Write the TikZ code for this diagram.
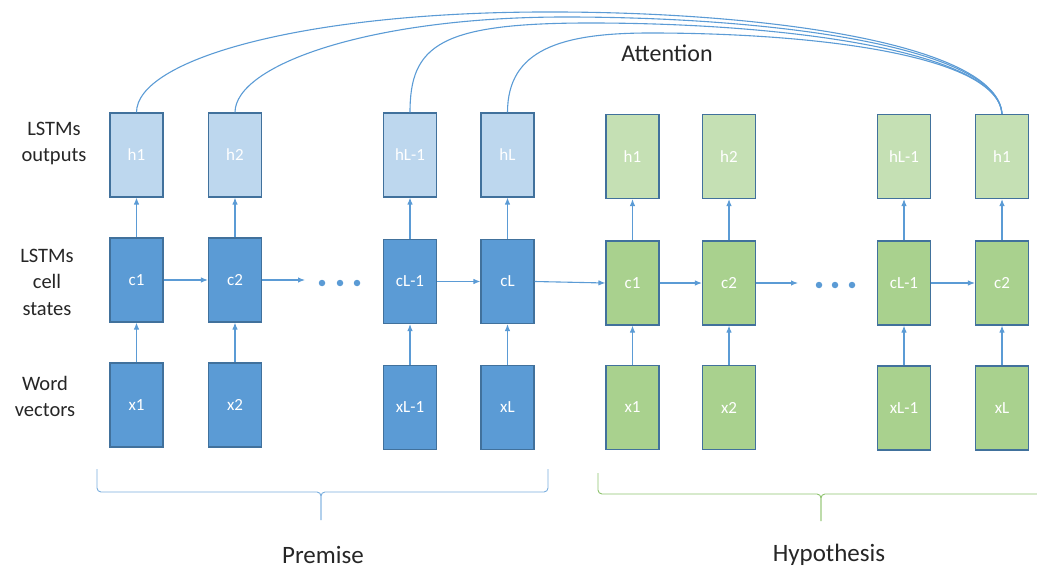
\documentclass[tikz,border=0pt]{standalone}
\usepackage{fontspec}
\setmainfont{Carlito}
\usetikzlibrary{arrows.meta}
\definecolor{bdark}{HTML}{5B9BD5}
\definecolor{blight}{HTML}{BDD7EE}
\definecolor{gdark}{HTML}{A9D18E}
\definecolor{glight}{HTML}{C5E0B4}
\definecolor{edge}{HTML}{41719C}
\definecolor{arr}{HTML}{5B9BD5}
\definecolor{gbrace}{HTML}{8FC36F}
\definecolor{bbrace}{HTML}{7AAEDE}
\definecolor{txt}{HTML}{262626}
\begin{document}
\begin{tikzpicture}[x=1pt,y=-1pt,
  cell/.style={draw=edge,line width=1.1pt,minimum width=53pt,minimum height=84pt,inner sep=0pt,
     text=white,font=\fontsize{17}{20}\selectfont},
  bh/.style={cell,fill=blight},
  bc/.style={cell,fill=bdark},
  gh/.style={cell,fill=glight},
  gc/.style={cell,fill=gdark},
  conn/.style={draw=arr,line width=1.1pt,-{Latex[length=7pt,width=5.5pt]}},
  att/.style={draw=arr,line width=1.1pt},
  lab/.style={align=center,text=txt,font=\fontsize{20.5}{26.5}\selectfont},
  big/.style={text=txt,font=\fontsize{24}{28}\selectfont},
  dot/.style={circle,fill=arr,inner sep=0pt,minimum size=6.5pt}
]
\useasboundingbox (0,0) rectangle (1037,575);
% premise boxes
\node[bh] (ph1) at (136.5,155) {h1};
\node[bh] (ph2) at (235,155) {h2};
\node[bh] (ph3) at (410,155) {hL-1};
\node[bh] (ph4) at (507.5,155) {hL};
\node[bc] (pc1) at (136.5,280) {c1};
\node[bc] (pc2) at (235,280) {c2};
\node[bc] (pc3) at (410,281.5) {cL-1};
\node[bc] (pc4) at (507.5,281.5) {cL};
\node[bc] (px1) at (136.5,405) {x1};
\node[bc] (px2) at (235,405) {x2};
\node[bc] (px3) at (410,407.5) {xL-1};
\node[bc] (px4) at (507.5,407.5) {xL};
% hypothesis boxes
\node[gh] (gh1) at (632.5,156.5) {h1};
\node[gh] (gh2) at (729,156.5) {h2};
\node[gh] (gh3) at (904,156.5) {hL-1};
\node[gh] (gh4) at (1002,156.5) {h1};
\node[gc] (gc1) at (632.5,283) {c1};
\node[gc] (gc2) at (729,283) {c2};
\node[gc] (gc3) at (904,283) {cL-1};
\node[gc] (gc4) at (1002,283) {c2};
\node[gc] (gx1) at (632.5,407.5) {x1};
\node[gc] (gx2) at (729,407.5) {x2};
\node[gc] (gx3) at (904,408) {xL-1};
\node[gc] (gx4) at (1002,408) {xL};
% vertical arrows
\foreach \i in {1,2,3,4}{
  \draw[conn] (px\i) -- (pc\i);
  \draw[conn] (pc\i) -- (ph\i);
  \draw[conn] (gx\i) -- (gc\i);
  \draw[conn] (gc\i) -- (gh\i);
}
% horizontal arrows
\coordinate (pe) at (305,280);
\coordinate (ge) at (798,283);
\draw[conn] (pc1) -- (pc2);
\draw[conn] (pc2.east) -- (pe);
\draw[conn] (pc3) -- (pc4);
\draw[conn] (pc4.east) -- (gc1.west);
\draw[conn] (gc1) -- (gc2);
\draw[conn] (gc2.east) -- (ge);
\draw[conn] (gc3) -- (gc4);
% dots
\node[dot] (pd1) at (322,283) {};
\node[dot] (pd2) at (340,283) {};
\node[dot] (pd3) at (357,283) {};
\node[dot] (gd1) at (819,285) {};
\node[dot] (gd2) at (835,285) {};
\node[dot] (gd3) at (852,285) {};
% attention curves
\coordinate (k1) at (540,12);
\coordinate (k2) at (565,17);
\coordinate (k3) at (590,23);
\coordinate (k4) at (650,33);
\draw[att] (ph1.north) .. controls (136.5,60) and (300,13) .. (k1)
   .. controls (770,11) and (998,45) .. (gh4.north);
\draw[att] (ph2.north) .. controls (235,65) and (370,17) .. (k2)
   .. controls (780,17) and (998,48) .. (gh4.north);
\draw[att] (ph3.north) .. controls (410,45) and (440,23) .. (k3)
   .. controls (790,23) and (998,52) .. (gh4.north);
\draw[att] (ph4.north) .. controls (507.5,50) and (560,33) .. (k4)
   .. controls (820,33) and (998,56) .. (gh4.north);
\node[big] (attn) at (667,53) {Attention};
% row labels
\node[lab] (l1) at (54,143.5) {LSTMs\\outputs};
\node[lab] (l2) at (47,282) {LSTMs\\cell\\states};
\node[lab] (l3) at (45,396.5) {Word\\vectors};
% braces
\draw[bbrace,line width=0.9pt,rounded corners=4pt] (97,469) -- (97,492) -- (321,492) -- (321,520);
\draw[bbrace,line width=0.9pt,rounded corners=4pt] (548,469) -- (548,492) -- (321,492) -- (321,520);
\draw[gbrace,line width=0.9pt,rounded corners=4pt] (598,473) -- (598,494) -- (821,494) -- (821,521);
\draw[gbrace,line width=0.9pt,rounded corners=4pt] (1040,494) -- (821,494) -- (821,521);
\node[big,font=\fontsize{25}{30}\selectfont] (prem) at (323,555) {Premise};
\node[big,font=\fontsize{25}{30}\selectfont] (hyp) at (829,555) {Hypothesis};
\end{tikzpicture}
\end{document}
